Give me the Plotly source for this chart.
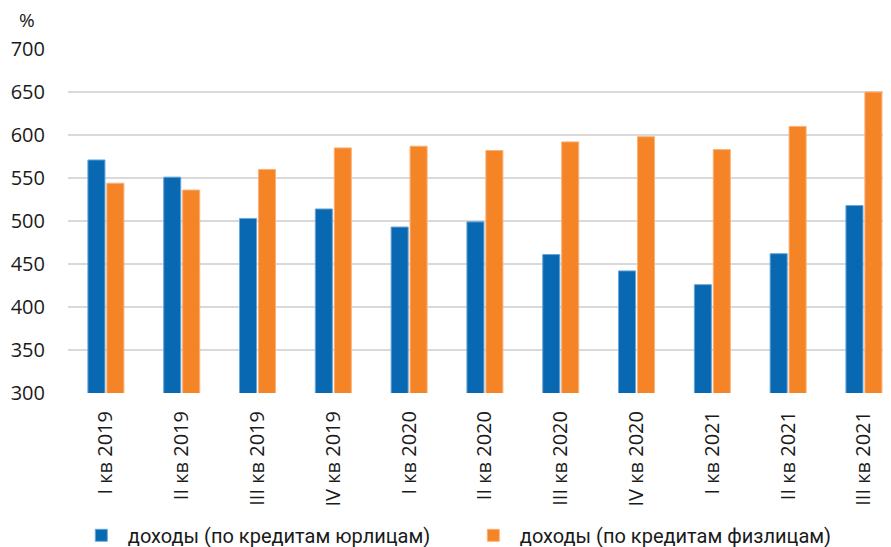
import plotly.graph_objects as go

categories = ["I кв 2019", "II кв 2019", "III кв 2019", "IV кв 2019", "I кв 2020", "II кв 2020",
              "III кв 2020", "IV кв 2020", "I кв 2021", "II кв 2021", "III кв 2021"]
corp = [571, 551, 503, 514, 493, 499, 461, 442, 426, 462, 518]
retail = [544, 536, 560, 585, 587, 582, 592, 598, 583, 610, 650]
series_names = ["доходы (по кредитам юрлицам)", "доходы (по кредитам физлицам)"]
y_ticks = [300, 350, 400, 450, 500, 550, 600, 650, 700]

BLUE = "#0868B2"
ORANGE = "#F58426"
TXT = "#1a1a1a"

# the page places the figure 8px from the top-left corner; margins compensate
fig = go.Figure()
fig.add_trace(go.Bar(x=categories, y=corp, name=series_names[0], marker_color=BLUE,
                     marker_line=dict(color="#6aa6d6", width=1)))
fig.add_trace(go.Bar(x=categories, y=retail, name=series_names[1], marker_color=ORANGE,
                     marker_line=dict(color="#f9b27a", width=1)))

fig.update_layout(
    width=891, height=547,
    margin=dict(l=60, r=8, t=41, b=162, autoexpand=False),
    paper_bgcolor="white", plot_bgcolor="white",
    barmode="group", bargap=0.5, bargroupgap=0.1,
    font=dict(family="Open Sans", color=TXT, size=18),
    showlegend=True,
    legend=dict(orientation="h", x=0.075, y=0.036, xref="container", yref="container",
                xanchor="left", yanchor="middle",
                font=dict(family="Roboto", size=20, color=TXT),
                entrywidth=334, itemwidth=43, traceorder="normal"),
    annotations=[dict(text="%", x=-0.0498, y=1.084, xref="paper", yref="paper",
                      xanchor="center", yanchor="middle", showarrow=False,
                      font=dict(size=19, family="Open Sans", color=TXT))],
)

fig.update_xaxes(range=[-0.5, 10.357], tickangle=-90, showgrid=False, showline=False,
                 ticks="", ticklabelstandoff=13,
                 tickfont=dict(size=20, family="Open Sans", color=TXT))
fig.update_yaxes(range=[300, 700], tickvals=y_ticks, showgrid=True, gridcolor="#d9d9d9",
                 gridwidth=1.5, zeroline=False, showline=False, ticks="",
                 ticklabelstandoff=22, tickfont=dict(size=20, family="Open Sans", color=TXT))

fig.write_html("out.html")
